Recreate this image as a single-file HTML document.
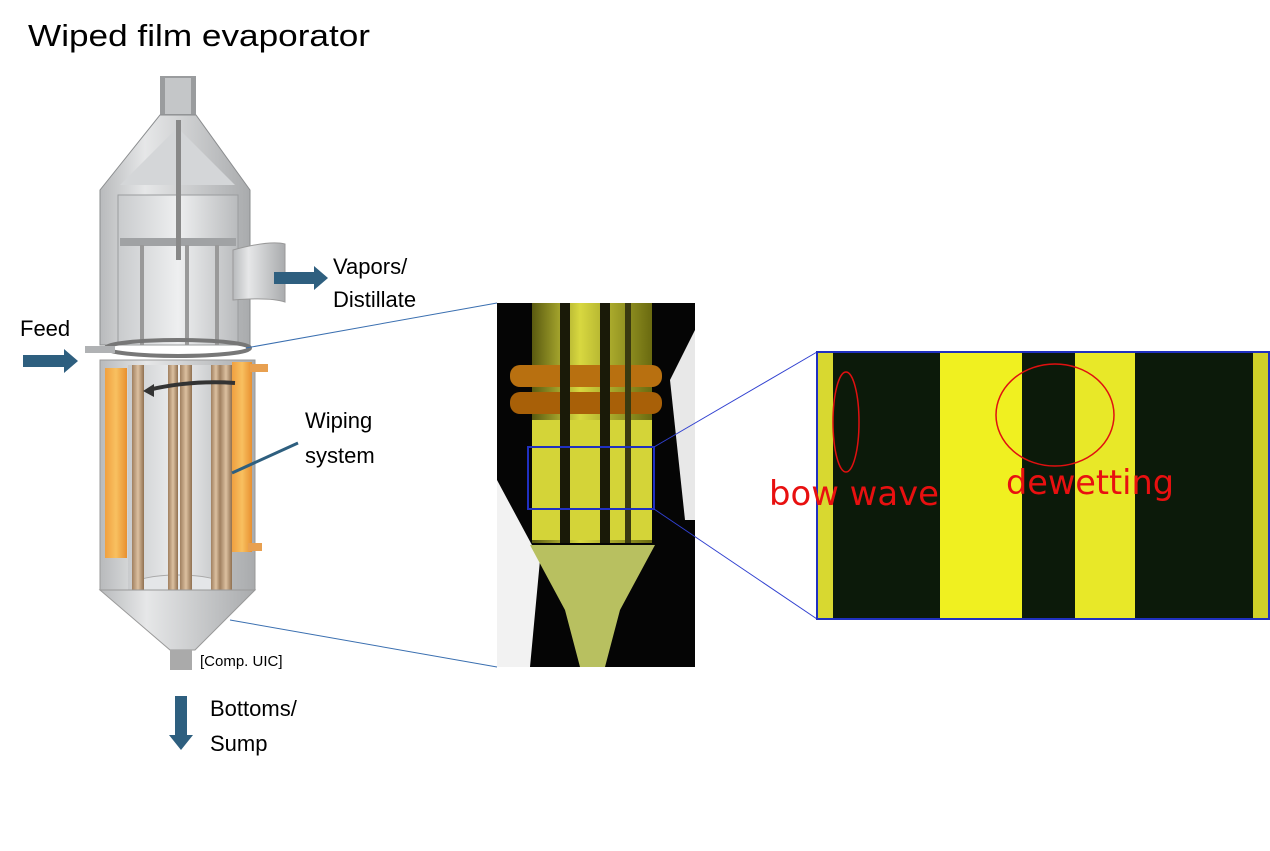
<!DOCTYPE html>
<html><head><style>
body{margin:0;background:#fff;width:1270px;height:846px;overflow:hidden;font-family:"Liberation Sans",sans-serif}
</style></head><body>
<svg width="1270" height="846" viewBox="0 0 1270 846" xmlns="http://www.w3.org/2000/svg">
<defs>
<linearGradient id="steel" x1="0" x2="1"><stop offset="0" stop-color="#b8babc"/><stop offset=".3" stop-color="#e6e7e8"/><stop offset="1" stop-color="#a9abad"/></linearGradient>
<linearGradient id="inner" x1="0" x2="1"><stop offset="0" stop-color="#c9cbcd"/><stop offset=".5" stop-color="#eeeff0"/><stop offset="1" stop-color="#b9bbbd"/></linearGradient>
<linearGradient id="orange" x1="0" x2="1"><stop offset="0" stop-color="#f0a040"/><stop offset=".5" stop-color="#f8c060"/><stop offset="1" stop-color="#e89030"/></linearGradient>
<linearGradient id="rod" x1="0" x2="1"><stop offset="0" stop-color="#a08060"/><stop offset=".5" stop-color="#dcc0a0"/><stop offset="1" stop-color="#907050"/></linearGradient>
<linearGradient id="glass" x1="0" x2="1"><stop offset="0" stop-color="#5a5a10"/><stop offset=".4" stop-color="#d8d840"/><stop offset="1" stop-color="#6a6a10"/></linearGradient>
</defs>
<text x="28" y="46" font-size="31" fill="#000" textLength="342" lengthAdjust="spacingAndGlyphs">Wiped film evaporator</text>

<!-- evaporator -->
<rect x="160" y="76" width="36" height="40" fill="#9a9c9e"/>
<rect x="165" y="78" width="26" height="36" fill="#c4c6c8"/>
<polygon points="160,115 196,115 250,190 250,345 100,345 100,190" fill="url(#steel)" stroke="#8a8c8e"/>
<polygon points="175,130 180,130 235,185 120,185" fill="#d4d6d8"/>
<rect x="118" y="195" width="120" height="150" fill="url(#inner)" stroke="#9a9c9e"/>
<rect x="120" y="238" width="116" height="8" fill="#a0a2a4"/>
<rect x="176" y="120" width="5" height="140" fill="#888"/>
<rect x="140" y="245" width="4" height="100" fill="#999"/><rect x="215" y="245" width="4" height="100" fill="#999"/><rect x="185" y="245" width="4" height="100" fill="#999"/>
<path d="M233 250 Q270 240 285 244 L285 302 Q270 297 233 300Z" fill="url(#steel)" stroke="#999"/>
<ellipse cx="178" cy="348" rx="72" ry="8" fill="none" stroke="#777" stroke-width="4"/>
<rect x="85" y="346" width="30" height="7" fill="#b0b2b4"/>
<polygon points="100,360 255,360 255,590 100,590" fill="url(#steel)" stroke="#999"/>
<rect x="105" y="368" width="22" height="190" fill="url(#orange)"/>
<rect x="232" y="362" width="20" height="190" fill="url(#orange)"/>
<rect x="250" y="364" width="18" height="8" fill="#e8a050"/><rect x="248" y="543" width="14" height="8" fill="#e8a050"/>
<rect x="128" y="365" width="102" height="225" fill="url(#inner)"/>
<ellipse cx="178" cy="585" rx="45" ry="10" fill="#e4e6e8" stroke="#aaa"/>
<rect x="132" y="365" width="12" height="235" fill="url(#rod)"/>
<rect x="168" y="365" width="10" height="235" fill="url(#rod)"/>
<rect x="180" y="365" width="12" height="240" fill="url(#rod)"/>
<rect x="211" y="365" width="10" height="225" fill="url(#rod)"/>
<rect x="220" y="365" width="12" height="235" fill="url(#rod)"/>
<path d="M235 383 Q190 380 148 390" stroke="#333" stroke-width="4" fill="none"/>
<polygon points="143,391 154,384 154,397" fill="#333"/>
<polygon points="100,590 255,590 195,650 170,650" fill="url(#steel)" stroke="#999"/>
<rect x="170" y="650" width="22" height="20" fill="#aaa"/>

<!-- blue arrows -->
<polygon points="274,272 314,272 314,266 328,278 314,290 314,284 274,284" fill="#2e5f7f"/>
<polygon points="23,355 64,355 64,349 78,361 64,373 64,367 23,367" fill="#2e5f7f"/>
<polygon points="175,696 187,696 187,735 193,735 181,750 169,735 175,735" fill="#2e5f7f"/>
<line x1="232" y1="473" x2="298" y2="443" stroke="#2e5f7f" stroke-width="3"/>

<g font-size="22" fill="#000">
<text x="333" y="274">Vapors/</text><text x="333" y="307">Distillate</text>
<text x="20" y="336">Feed</text>
<text x="305" y="428">Wiping</text><text x="305" y="463">system</text>
<text x="210" y="716">Bottoms/</text><text x="210" y="751">Sump</text>
</g>
<text x="200" y="666" font-size="15" fill="#000">[Comp. UIC]</text>

<!-- connector lines -->
<line x1="246" y1="348" x2="497" y2="303" stroke="#3a6fb0" stroke-width="1"/>
<line x1="230" y1="620" x2="497" y2="667" stroke="#3a6fb0" stroke-width="1"/>

<!-- middle photo -->
<rect x="497" y="303" width="198" height="364" fill="#050505"/>
<polygon points="497,480 540,560 530,667 497,667" fill="#f2f2f2"/>
<polygon points="670,380 695,330 695,520 685,520" fill="#e8e8e8"/>
<rect x="532" y="303" width="120" height="240" fill="url(#glass)"/>
<rect x="510" y="365" width="152" height="22" rx="10" fill="#b87010"/>
<rect x="510" y="392" width="152" height="22" rx="10" fill="#a86008"/>
<rect x="532" y="420" width="120" height="120" fill="#d4d438"/>
<rect x="560" y="303" width="10" height="240" fill="#1a1a08"/>
<rect x="600" y="303" width="10" height="240" fill="#1a1a08"/>
<rect x="625" y="303" width="6" height="240" fill="#3a3a10"/>
<polygon points="530,545 655,545 620,610 605,667 580,667 565,610" fill="#b8c060"/>
<rect x="528" y="447" width="126" height="62" fill="none" stroke="#2030c0" stroke-width="2"/>

<line x1="654" y1="447" x2="817" y2="352" stroke="#3040d0" stroke-width="1"/>
<line x1="654" y1="509" x2="817" y2="619" stroke="#3040d0" stroke-width="1"/>

<!-- right panel -->
<rect x="817" y="352" width="452" height="267" fill="#0c1a0a"/>
<rect x="817" y="352" width="16" height="267" fill="#d8d830"/>
<rect x="940" y="352" width="82" height="267" fill="#f0f020"/>
<rect x="1075" y="352" width="60" height="267" fill="#e8e828"/>
<rect x="1253" y="352" width="16" height="267" fill="#d0d028"/>
<rect x="817" y="352" width="452" height="267" fill="none" stroke="#2030c0" stroke-width="2"/>
<ellipse cx="846" cy="422" rx="13" ry="50" fill="none" stroke="#e01010" stroke-width="1.5"/>
<ellipse cx="1055" cy="415" rx="59" ry="51" fill="none" stroke="#e01010" stroke-width="1.5"/>
<text x="769" y="505" font-size="34" fill="#e81010" font-family="DejaVu Sans Condensed, DejaVu Sans, sans-serif" textLength="170" lengthAdjust="spacingAndGlyphs">bow wave</text>
<text x="1006" y="494" font-size="34" fill="#e81010" font-family="DejaVu Sans Condensed, DejaVu Sans, sans-serif" textLength="168" lengthAdjust="spacingAndGlyphs">dewetting</text>
</svg>
</body></html>
